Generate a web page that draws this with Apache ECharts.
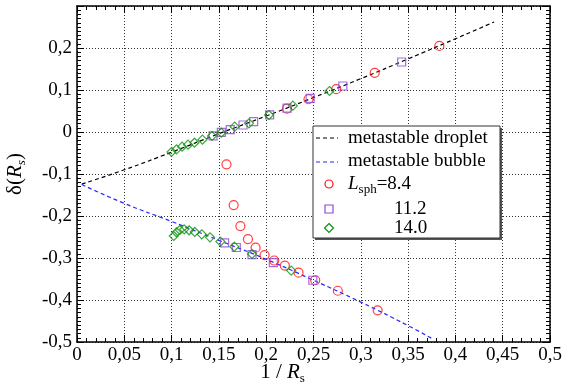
<!DOCTYPE html>
<html><head><meta charset="utf-8">
<script src="https://cdn.jsdelivr.net/npm/echarts@6/dist/echarts.min.js"></script>
<style>html,body{margin:0;padding:0;background:#fff}#c{width:565px;height:389px}</style>
</head><body><div id="c"></div>
<script>
// Fitted curves: metastable droplet / bubble branches
const dropletLineX = [0.005, 0.05, 0.1, 0.15, 0.2, 0.25, 0.3, 0.35, 0.4, 0.441];
const dropletLineY = [-0.124, -0.090, -0.048, -0.004, 0.038, 0.082, 0.127, 0.174, 0.222, 0.262];
const bubbleLineX = [0.005, 0.05, 0.1, 0.15, 0.2, 0.25, 0.3, 0.35, 0.377];
const bubbleLineY = [-0.125, -0.170, -0.213, -0.258, -0.303, -0.353, -0.405, -0.461, -0.494];

// L_sph = 8.4
const l84DropX = [0.222, 0.2447, 0.274, 0.3147, 0.383];
const l84DropY = [0.0555, 0.078, 0.102, 0.141, 0.205];
const l84BubX = [0.158, 0.1656, 0.1727, 0.1807, 0.1888, 0.1983, 0.2085, 0.2197, 0.2342, 0.2518, 0.2757, 0.3178];
const l84BubY = [-0.077, -0.174, -0.224, -0.255, -0.2754, -0.293, -0.306, -0.318, -0.335, -0.353, -0.378, -0.4246];

// L_sph = 11.2
const l112DropX = [0.1438, 0.1526, 0.162, 0.1755, 0.1867, 0.2036, 0.222, 0.2465, 0.281, 0.3432];
const l112DropY = [-0.009, -0.001, 0.0056, 0.0167, 0.0246, 0.041, 0.057, 0.080, 0.1095, 0.1667];
const l112BubX = [0.156, 0.1684, 0.185, 0.2075, 0.2493];
const l112BubY = [-0.264, -0.275, -0.292, -0.311, -0.353];

// L_sph = 14.0
const l140DropX = [0.0999, 0.1052, 0.1111, 0.1174, 0.1242, 0.1326, 0.1427, 0.1526, 0.1667, 0.1818, 0.2029, 0.2282, 0.2669];
const l140DropY = [-0.0476, -0.0412, -0.035, -0.0302, -0.0255, -0.0183, -0.0095, -0.0017, 0.0127, 0.0207, 0.0405, 0.0627, 0.0976];
const l140BubX = [0.1023, 0.1052, 0.1087, 0.1133, 0.1185, 0.1245, 0.1319, 0.1406, 0.1516, 0.1663, 0.185, 0.2264];
const l140BubY = [-0.2476, -0.2388, -0.2333, -0.2317, -0.234, -0.238, -0.2436, -0.2508, -0.261, -0.273, -0.2905, -0.330];

const legendNames = ['metastable droplet', 'metastable bubble', '=8.4', '11.2', '14.0'];

const zip = (xs, ys) => xs.map((x, i) => [x, ys[i]]);
const SERIF = '"Liberation Serif","DejaVu Serif",serif';
const RED = '#ff1010', PURPLE = '#8f48d8', GREEN = '#0c900c', BLUE = '#2828ff';
const fmt = v => String(Math.round(v * 100) / 100).replace('.', ',');

const axisCommon = {
  axisLine: { onZero: false, lineStyle: { color: '#000', width: 1.5 } },
  axisTick: { inside: true, length: 7, lineStyle: { color: '#000', width: 1 } },
  minorTick: { show: true, length: 4, lineStyle: { color: '#000', width: 1 } },
  splitLine: { show: false }
};
const gridLine = { show: true, lineStyle: { color: '#333', type: [1, 2], width: 1 } };

const chart = echarts.init(document.getElementById('c'), null, { renderer: 'canvas' });
const mk = (name, data, symbol, color, size) => ({
  name, type: 'scatter', data, symbol, symbolSize: size,
  itemStyle: { color: 'rgba(0,0,0,0)', borderColor: color, borderWidth: 1.2 },
  z: 5
});

chart.setOption({
  animation: false,
  backgroundColor: '#fff',
  grid: { left: 77, right: 15, top: 6, bottom: 47 },
  xAxis: [
    Object.assign({}, axisCommon, {
      type: 'value', min: 0, max: 0.5, interval: 0.05, position: 'bottom',
      minorTick: Object.assign({}, axisCommon.minorTick, { splitNumber: 5 }),
      splitLine: gridLine,
      axisLabel: { formatter: fmt, fontFamily: SERIF, fontSize: 19, color: '#000', margin: 4 }
    }),
    Object.assign({}, axisCommon, {
      type: 'value', min: 0, max: 0.5, interval: 0.05, position: 'top',
      minorTick: Object.assign({}, axisCommon.minorTick, { splitNumber: 5 }),
      axisLabel: { show: false }
    })
  ],
  yAxis: [
    Object.assign({}, axisCommon, {
      type: 'value', min: -0.5, max: 0.3, interval: 0.1, position: 'left',
      minorTick: Object.assign({}, axisCommon.minorTick, { splitNumber: 10 }),
      splitLine: gridLine,
      axisLabel: { formatter: fmt, fontFamily: SERIF, fontSize: 19, color: '#000', margin: 5, showMaxLabel: false }
    }),
    Object.assign({}, axisCommon, {
      type: 'value', min: -0.5, max: 0.3, interval: 0.1, position: 'right',
      minorTick: Object.assign({}, axisCommon.minorTick, { splitNumber: 10 }),
      axisLabel: { show: false }
    })
  ],
  series: [
    { name: legendNames[0], type: 'line', data: zip(dropletLineX, dropletLineY), showSymbol: false, smooth: true,
      lineStyle: { color: '#000', width: 1.2, type: [4, 3] }, z: 3 },
    { name: legendNames[1], type: 'line', data: zip(bubbleLineX, bubbleLineY), showSymbol: false, smooth: true,
      lineStyle: { color: BLUE, width: 1.2, type: [4, 3] }, z: 3 },
    mk('8.4a', zip(l84DropX, l84DropY), 'circle', RED, 9),
    mk('8.4b', zip(l84BubX, l84BubY), 'circle', RED, 9),
    mk('11.2a', zip(l112DropX, l112DropY), 'rect', PURPLE, 8),
    mk('11.2b', zip(l112BubX, l112BubY), 'rect', PURPLE, 8),
    mk('14.0a', zip(l140DropX, l140DropY), 'diamond', GREEN, 9),
    mk('14.0b', zip(l140BubX, l140BubY), 'diamond', GREEN, 9)
  ],
  graphic: [
    // axis titles
    { type: 'text', left: 'center', x: 0, top: 362, z: 20,
      style: { text: '{n|1 / }{i|R}{s|s}', fontFamily: SERIF,
        rich: { n: { fontSize: 21, fontFamily: SERIF, lineHeight: 26 },
                i: { fontSize: 21, fontFamily: SERIF, fontStyle: 'italic', lineHeight: 26 },
                s: { fontSize: 13, fontFamily: SERIF, lineHeight: 12, verticalAlign: 'bottom' } } } },
    { type: 'text', x: 15, y: 174, rotation: Math.PI / 2, z: 20,
      style: { text: '{n|δ(}{i|R}{s|s}{n|)}', align: 'center', verticalAlign: 'middle', fontFamily: SERIF,
        rich: { n: { fontSize: 21, fontFamily: SERIF, lineHeight: 26 },
                i: { fontSize: 21, fontFamily: SERIF, fontStyle: 'italic', lineHeight: 26 },
                s: { fontSize: 13, fontFamily: SERIF, fontStyle: 'italic', lineHeight: 12, verticalAlign: 'bottom' } } } },
    // legend box with offset shadow
    { type: 'rect', z: 19, shape: { x: 315, y: 128, width: 187, height: 112 },
      style: { fill: '#555', stroke: 'none' } },
    { type: 'rect', z: 20, shape: { x: 313, y: 126, width: 187, height: 112 },
      style: { fill: '#fff', stroke: '#333', lineWidth: 1 } },
    { type: 'line', z: 21, shape: { x1: 316, y1: 138, x2: 338, y2: 138 }, style: { stroke: '#000', lineWidth: 1.2, lineDash: [4, 3] } },
    { type: 'line', z: 21, shape: { x1: 316, y1: 162, x2: 338, y2: 162 }, style: { stroke: BLUE, lineWidth: 1.2, lineDash: [4, 3] } },
    { type: 'circle', z: 21, shape: { cx: 329, cy: 184, r: 4 }, style: { fill: 'none', stroke: RED, lineWidth: 1.2 } },
    { type: 'rect', z: 21, shape: { x: 325, y: 205, width: 8, height: 8 }, style: { fill: 'none', stroke: PURPLE, lineWidth: 1.2 } },
    { type: 'polygon', z: 21, shape: { points: [[329, 223.5], [333.5, 228], [329, 232.5], [324.5, 228]] }, style: { fill: 'none', stroke: GREEN, lineWidth: 1.2 } },
    { type: 'text', z: 21, x: 348, y: 138, style: { text: legendNames[0], fontFamily: SERIF, fontSize: 19, verticalAlign: 'middle', fill: '#000' } },
    { type: 'text', z: 21, x: 348, y: 161, style: { text: legendNames[1], fontFamily: SERIF, fontSize: 19, verticalAlign: 'middle', fill: '#000' } },
    { type: 'text', z: 21, x: 348, y: 184, style: { text: '{i|L}{s|sph}{n|' + legendNames[2] + '}', verticalAlign: 'middle', fontFamily: SERIF,
        rich: { n: { fontSize: 19, fontFamily: SERIF, lineHeight: 24 },
                i: { fontSize: 19, fontFamily: SERIF, fontStyle: 'italic', lineHeight: 24 },
                s: { fontSize: 13, fontFamily: SERIF, lineHeight: 12, verticalAlign: 'bottom' } } } },
    { type: 'text', z: 21, x: 394, y: 209, style: { text: legendNames[3], fontFamily: SERIF, fontSize: 19, verticalAlign: 'middle', fill: '#000' } },
    { type: 'text', z: 21, x: 394, y: 228, style: { text: legendNames[4], fontFamily: SERIF, fontSize: 19, verticalAlign: 'middle', fill: '#000' } }
  ]
});
</script></body></html>
